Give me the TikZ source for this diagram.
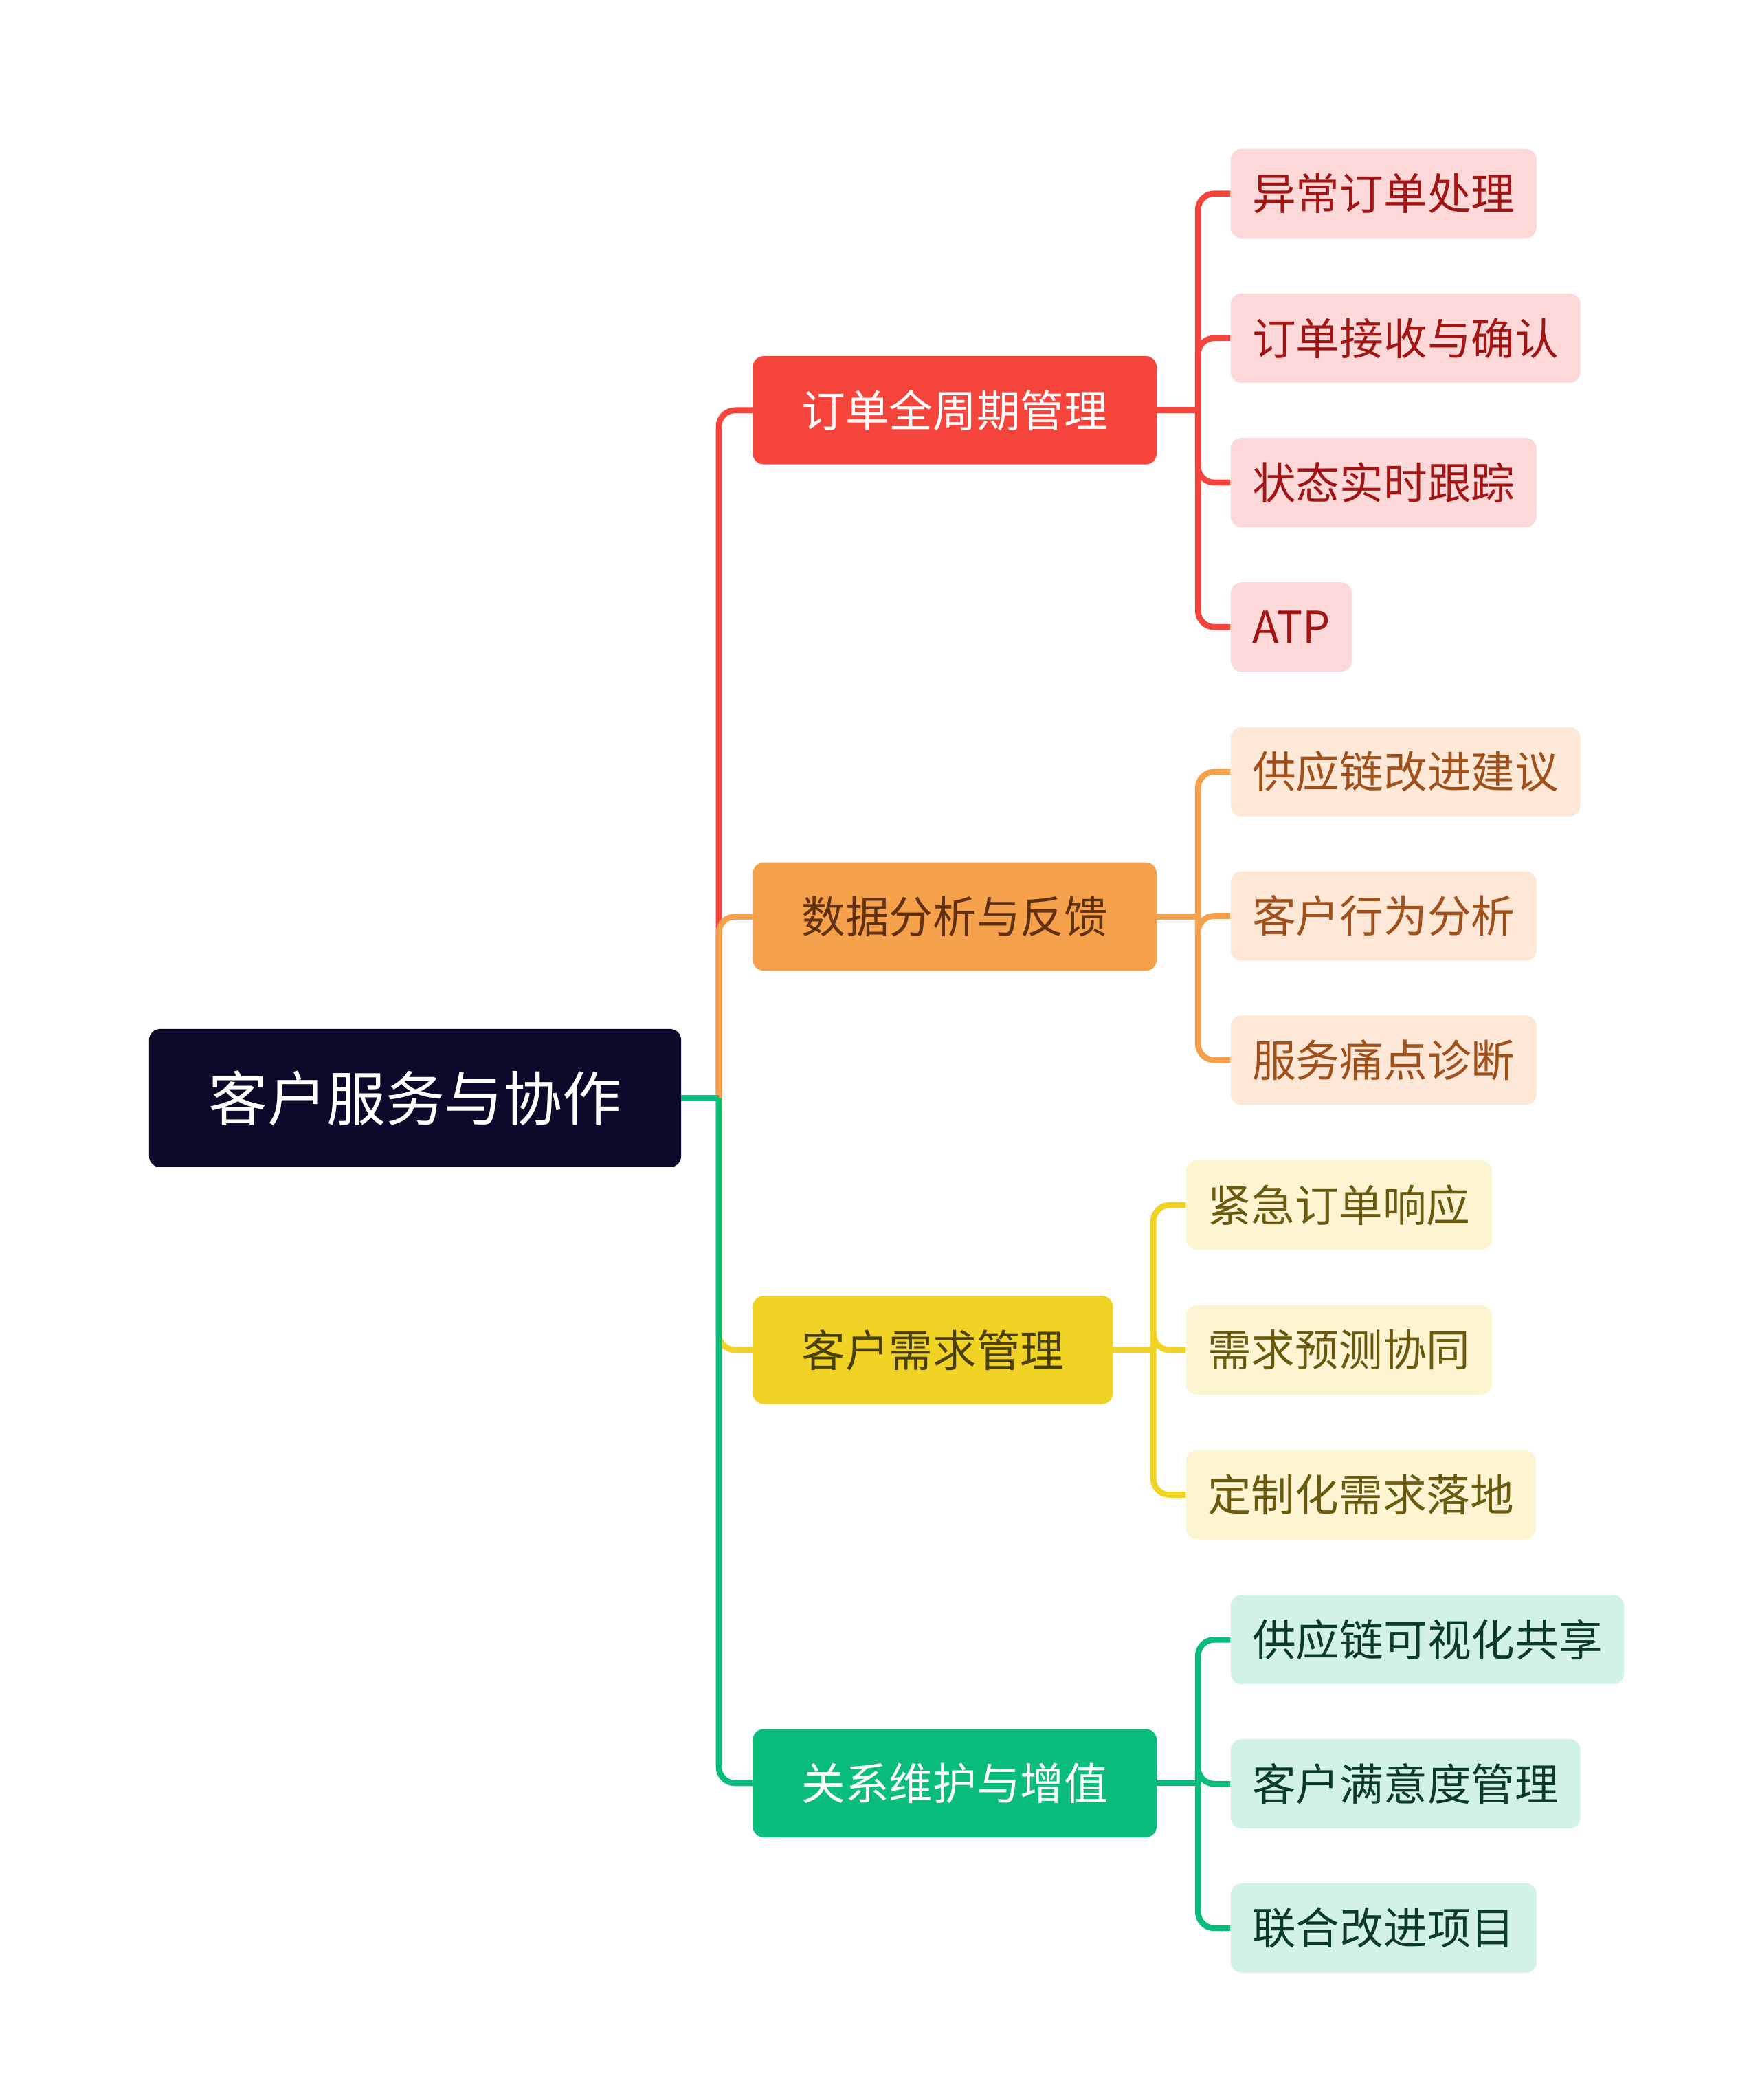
\documentclass[tikz,border=0pt]{standalone}
\usepackage{fontspec}
\setmainfont{Noto Sans CJK SC}
\usepackage{tikz}
\usetikzlibrary{positioning}
\definecolor{rootc}{HTML}{0B0A2A}
\definecolor{redc}{HTML}{F5443B}
\definecolor{redl}{HTML}{FDD8D8}
\definecolor{redt}{HTML}{A31414}
\definecolor{orgc}{HTML}{F5A04A}
\definecolor{orgl}{HTML}{FDE8D8}
\definecolor{orgt}{HTML}{A0501A}
\definecolor{yelc}{HTML}{F0D324}
\definecolor{yell}{HTML}{FDF5D2}
\definecolor{yelt}{HTML}{6A5A10}
\definecolor{grnc}{HTML}{0BBD7A}
\definecolor{grnl}{HTML}{D2F2E6}
\definecolor{grnt}{HTML}{0A3A2A}
\tikzset{
  rootbox/.style={fill=rootc,text=white,rounded corners=0.4cm,minimum height=5.1cm,
    inner xsep=2.2cm,font=\fontsize{62}{70}\selectfont,anchor=west},
  mainbox/.style={rounded corners=0.4cm,minimum height=4cm,inner xsep=1.8cm,
    font=\fontsize{46}{52}\selectfont,anchor=west},
  leafbox/.style={rounded corners=0.4cm,minimum height=3.3cm,inner xsep=0.8cm,
    font=\fontsize{46}{52}\selectfont,anchor=west},
  stub/.style={line width=0.22cm},
  link/.style={line width=0.22cm,rounded corners=0.6cm}
}
\begin{document}
\begin{tikzpicture}[x=0.05cm,y=-0.05cm]
  \useasboundingbox (0,0) rectangle (1300,1551);
  \node [rootbox] (root) at (110,811) {客户服务与协作};
  \coordinate (rj) at (531,811);
  % main branches
  \node [mainbox,fill=redc,text=white] (m1) at (556,303) {订单全周期管理};
  \node [mainbox,fill=orgc,text=orgt!60!black] (m2) at (556,677) {数据分析与反馈};
  \node [mainbox,fill=yelc,text=yelt!70!black] (m3) at (556,997) {客户需求管理};
  \node [mainbox,fill=grnc,text=white] (m4) at (556,1317) {关系维护与增值};
  \foreach \m/\c in {m1/redc,m2/orgc,m3/yelc,m4/grnc}
    \draw [link,\c] (rj) |- (\m.west);
  \draw [stub,grnc] (root.east) -- (rj);
  % leaves
  \foreach \t [count=\i] in {异常订单处理,订单接收与确认,状态实时跟踪,ATP}
    \node [leafbox,fill=redl,text=redt] (a\i) at (909,{143+106.7*(\i-1)}) {\t};
  \foreach \t [count=\i] in {供应链改进建议,客户行为分析,服务痛点诊断}
    \node [leafbox,fill=orgl,text=orgt] (b\i) at (909,{570+106.5*(\i-1)}) {\t};
  \foreach \t [count=\i] in {紧急订单响应,需求预测协同,定制化需求落地}
    \node [leafbox,fill=yell,text=yelt] (c\i) at (876,{890+107*(\i-1)}) {\t};
  \foreach \t [count=\i] in {供应链可视化共享,客户满意度管理,联合改进项目}
    \node [leafbox,fill=grnl,text=grnt] (d\i) at (909,{1211+106.5*(\i-1)}) {\t};
  \coordinate (aj) at (885,303);
  \coordinate (bj) at (885,677);
  \coordinate (cj) at (852,997);
  \coordinate (dj) at (885,1317);
  \draw [stub,redc] (m1.east) -- (aj);
  \draw [stub,orgc] (m2.east) -- (bj);
  \draw [stub,yelc] (m3.east) -- (cj);
  \draw [stub,grnc] (m4.east) -- (dj);
  \foreach \i in {1,...,4}
    \draw [link,redc] (aj) |- (a\i.west);
  \foreach \i in {1,2,3}
    \draw [link,orgc] (bj) |- (b\i.west);
  \foreach \i in {1,2,3}
    \draw [link,yelc] (cj) |- (c\i.west);
  \foreach \i in {1,2,3}
    \draw [link,grnc] (dj) |- (d\i.west);
\end{tikzpicture}
\end{document}
